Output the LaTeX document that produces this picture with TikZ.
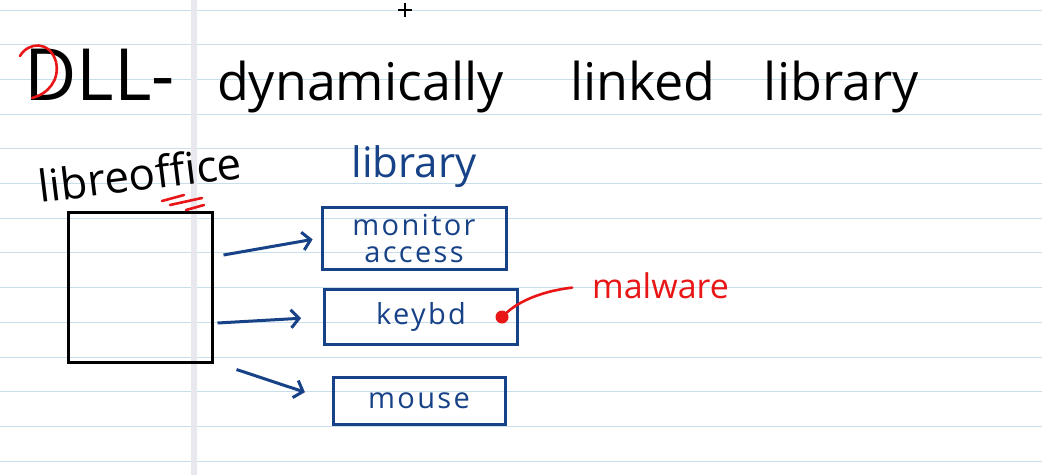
\documentclass[tikz,border=0pt]{standalone}
\usepackage{fontspec}
\setmainfont{Open Sans}
\usetikzlibrary{positioning,arrows.meta}
\definecolor{inkblue}{RGB}{24,66,135}
\definecolor{inkred}{RGB}{232,22,22}
\definecolor{ruleblue}{RGB}{200,222,234}
\definecolor{margingrey}{RGB}{232,232,238}
\begin{document}
\begin{tikzpicture}[x=1pt, y=-1pt,
    bigword/.style={inner sep=0pt, font=\fontsize{52}{60}\selectfont},
    libbox/.style={draw=inkblue, line width=3pt, text=inkblue, inner sep=0pt, align=center,
      font=\fontsize{29}{27}\selectfont\addfontfeature{LetterSpace=8}},
    libarrow/.style={-{Straight Barb[length=8pt,width=18pt]}, draw=inkblue, line width=3pt},
    redline/.style={draw=inkred, line width=2.6pt, line cap=round}]
        % Paper
        \useasboundingbox (0,0) rectangle (1042,475);
        \fill[white] (0,0) rectangle (1042,475);
        \foreach \i in {0,...,13}
            \draw[ruleblue, line width=1pt] (0,10+34.7*\i) -- (1042,10+34.7*\i);
        \fill[margingrey] (191,0) rectangle (197,475);
        \draw[line width=1.2pt] (398,10) -- (412,10) (405,3) -- (405,17);

        % Title
        \node (dll) [bigword, anchor=base west, font=\fontsize{72}{80}\selectfont] at (24,100) {DLL-};
        \node (dynamically) [bigword, base right=42pt of dll] {dynamically};
        \node (linked) [bigword, base right=66pt of dynamically] {linked};
        \node (librarytitle) [bigword, base right=48pt of linked] {library};
        \draw[redline] (20,56) .. controls (28,42) and (50,40) .. (56,62) .. controls (60,80) and (48,94) .. (32,98);

        % Program and libraries
        \node (office) [draw, line width=3pt, minimum width=144pt, minimum height=150pt, inner sep=0pt] at (140,287) {};
        \node (officelabel) [inner sep=0pt, rotate=7, font=\fontsize{44}{50}\selectfont] at (140,174) {libreoffice};
        \draw[redline] (162,201) -- (184,195) (170,205) -- (202,198) (186,210) -- (204,205);

        \node (monitor) [libbox, minimum width=184pt, minimum height=62pt] at (414,238) {monitor\\access};
        \node (keybd) [libbox, minimum width=193pt, minimum height=55pt] at (421,317) {keybd};
        \node (mouse) [libbox, minimum width=172pt, minimum height=47pt] at (419,401) {mouse};
        \node (librarylabel) [above=18pt of monitor, inner sep=0pt, text=inkblue, font=\fontsize{42}{48}\selectfont] {library};

        % Arrows
        \draw[libarrow, shorten >=8pt] ([shift={(10,-32)}]office.east) -- (monitor.west);
        \draw[libarrow, shorten >=22pt] ([shift={(4,36)}]office.east) -- (keybd.west);
        \draw[libarrow, shorten >=28pt] ([shift={(23,6)}]office.south east) -- (mouse.west);

        % Malware
        \node (malware) [inner sep=0pt, text=inkred, anchor=base west, font=\fontsize{34}{40}\selectfont] at (592,298) {malware};
        \node (blob) [circle, fill=inkred, minimum size=13pt, inner sep=0pt] at ([xshift=-17]keybd.east) {};
        \draw[redline, shorten <=20pt] (malware.west) .. controls (535,292) and (515,305) .. (blob);
\end{tikzpicture}
\end{document}
